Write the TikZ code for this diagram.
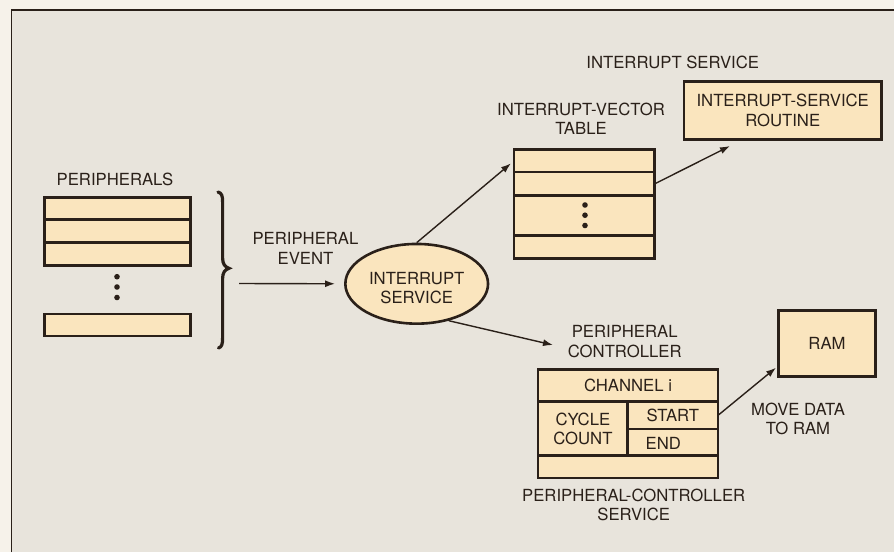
\documentclass[tikz,border=0pt]{standalone}
\usepackage{fontspec}
\setmainfont{TeX Gyre Heros}
\usetikzlibrary{shapes.geometric,arrows.meta}
\definecolor{ink}{HTML}{2A2019}
\definecolor{peach}{HTML}{FAE5BE}
\definecolor{paper}{HTML}{E8E4DC}
\definecolor{margincol}{HTML}{F6F2EA}
\begin{document}
\begin{tikzpicture}[x=1pt,y=-1pt,
  lbl/.style={font=\fontsize{16.7}{19.5}\selectfont, text=ink, align=center, inner sep=0},
  cell/.style={draw=ink, fill=peach, line width=2.6pt, inner sep=0, outer sep=0,
    anchor=north west, font=\fontsize{16.7}{19.5}\selectfont, text=ink, align=center},
  arr/.style={draw=ink, line width=1.4pt, -{Latex[length=10pt,width=7pt]}},
  bigdot/.style={circle, fill=ink, inner sep=0, minimum size=5.6pt}]
\useasboundingbox (0,0) rectangle (894,552);
\fill[margincol] (0,0) rectangle (894,552);
\fill[paper] (11.5,10) rectangle (894,552);
\draw[ink, line width=1.5pt] (11.5,552) -- (11.5,10) -- (894,10);

% Peripherals
\node[lbl] (lperiph) at (115,179.5) {PERIPHERALS};
\node[cell, minimum width=146.4pt, minimum height=22pt] (p1) at (44.3,197.3) {};
\node[cell, minimum width=146.4pt, minimum height=23.4pt] (p2) at (44.3,219.3) {};
\node[cell, minimum width=146.4pt, minimum height=22.7pt] (p3) at (44.3,242.7) {};
\node[cell, minimum width=146.4pt, minimum height=22pt] (p4) at (44.3,314) {};
\node[bigdot] (pd1) at (117,276.7) {};
\node[bigdot] (pd2) at (117,287) {};
\node[bigdot] (pd3) at (117,297.5) {};

% Brace
\draw[ink, line width=3.2pt, line cap=round]
  (218,192) .. controls (221.8,193) and (222.6,196) .. (222.6,202)
  -- (222.6,258) .. controls (222.6,264) and (225,267) .. (229,268.3)
  .. controls (225,269.6) and (222.6,272.5) .. (222.6,278.5)
  -- (222.6,338) .. controls (222.6,344) and (221.8,347) .. (218.5,348);

% Interrupt service ellipse
\node[ellipse, draw=ink, fill=peach, line width=2.6pt, minimum width=142.7pt,
  minimum height=79.7pt, inner sep=0] (is) at (416.7,283.8) {};
\node[lbl] (istext) at (416.7,287.9) {INTERRUPT\\SERVICE};
\node[lbl] (levent) at (305.5,248.5) {PERIPHERAL\\EVENT};
\coordinate (evsrc) at (239,283.5);
\draw[arr, shorten >=9pt] (evsrc) -- (is.west);

% Interrupt-vector table
\node[lbl] (ltable) at (581,119) {INTERRUPT-VECTOR\\TABLE};
\node[cell, minimum width=140.7pt, minimum height=22.4pt] (t1) at (514,149.6) {};
\node[cell, minimum width=140.7pt, minimum height=23.7pt] (t2) at (514,172) {};
\node[cell, minimum width=140.7pt, minimum height=40pt] (t3) at (514,195.7) {};
\node[cell, minimum width=140.7pt, minimum height=23pt] (t4) at (514,235.7) {};
\node[bigdot] (td1) at (585,205) {};
\node[bigdot] (td2) at (585,215.2) {};
\node[bigdot] (td3) at (585,225.5) {};
\draw[arr, shorten >=4pt] (is.north) -- (t1.west);

% Interrupt-service routine
\node[lbl] (lservice) at (672.7,62) {INTERRUPT SERVICE};
\node[cell, minimum width=197.4pt, minimum height=58.4pt] (isr) at (684,81.3)
  {INTERRUPT-SERVICE\\ROUTINE};
\coordinate (isrtip) at (730,146);
\draw[arr] (t2.east) -- (isrtip);

% Peripheral controller
\node[lbl] (lctrl) at (624.7,341.5) {PERIPHERAL\\CONTROLLER};
\node[cell, minimum width=180pt, minimum height=32.1pt] (c1) at (538,369.6) {CHANNEL i};
\node[cell, minimum width=89.7pt, minimum height=54pt] (cc) at (538,401.7) {CYCLE\\COUNT};
\node[cell, minimum width=90.3pt, minimum height=27.3pt] (st) at (627.7,401.7) {START};
\node[cell, minimum width=90.3pt, minimum height=26.7pt] (en) at (627.7,429) {};
\node[lbl, anchor=west] (entext) at (645.5,443.3) {END};
\node[cell, minimum width=180pt, minimum height=22.3pt] (c4) at (538,455.7) {};
\node[lbl] (lpcs) at (633.7,504.7) {PERIPHERAL-CONTROLLER\\SERVICE};
\coordinate (pctip) at (553,345);
\draw[arr] (is.-49) -- (pctip);

% RAM
\node[cell, minimum width=96.8pt, minimum height=65.8pt] (ram) at (778.6,310.6) {RAM};
\node[lbl] (lmove) at (798,419) {MOVE DATA\\TO RAM};
\coordinate (ramtip) at (776,367.7);
\draw[arr] (st.east) -- (ramtip);
\end{tikzpicture}
\end{document}
